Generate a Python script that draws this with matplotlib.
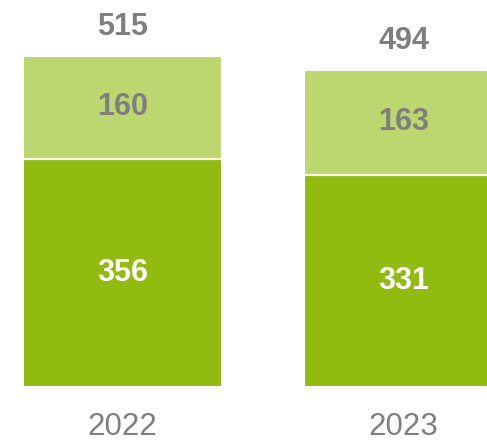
import matplotlib.pyplot as plt

years = ["2022", "2023"]
base = [356, 331]
upper = [160, 163]
totals = [515, 494]

dark = "#92BB10"
light = "#BDD770"
grey = "#7F7F7F"

plt.rcParams['font.family'] = ['Liberation Sans', 'DejaVu Sans']

fig = plt.figure(figsize=(4.87, 4.40), dpi=100)
ax = fig.add_axes([0, 0, 1, 1])

x = range(len(years))
w = 0.708
b1 = ax.bar(x, base, w, color=dark, edgecolor="white", linewidth=1.5)
b2 = ax.bar(x, upper, w, bottom=base, color=light, edgecolor="white", linewidth=1.5)

for i in x:
    ax.text(i, base[i] / 2, str(base[i]), ha="center", va="center",
            color="white", fontsize=22, fontweight="bold")
    ax.text(i, base[i] + upper[i] / 2, str(upper[i]), ha="center", va="center",
            color=grey, fontsize=22, fontweight="bold")
    ax.annotate(str(totals[i]), xy=(i, base[i] + upper[i]), xytext=(0, 10),
                textcoords="offset points", ha="center", va="bottom",
                color=grey, fontsize=22, fontweight="bold")
    ax.annotate(years[i], xy=(i, 0), xytext=(0, -26),
                textcoords="offset points", ha="center", va="center_baseline",
                color=grey, fontsize=22.5)

ax.set_xlim(-0.436, 1.297)
ax.set_ylim(-82.6, 603.3)
ax.axis("off")

fig.savefig("out.png", dpi=100)
